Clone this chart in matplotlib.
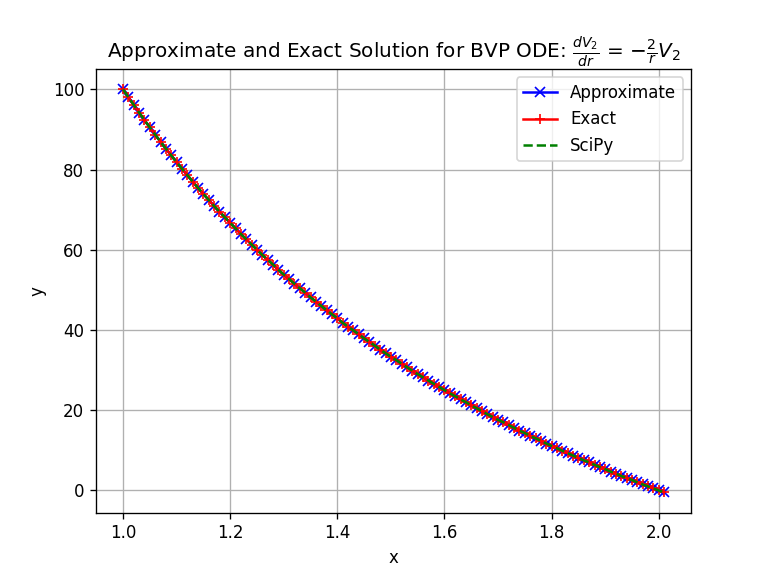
import matplotlib
matplotlib.use("Agg")
import matplotlib.pyplot as plt

r_vals = [1.00, 1.01, 1.02, 1.03, 1.04, 1.05, 1.06, 1.07, 1.08, 1.09,
          1.10, 1.11, 1.12, 1.13, 1.14, 1.15, 1.16, 1.17, 1.18, 1.19,
          1.20, 1.21, 1.22, 1.23, 1.24, 1.25, 1.26, 1.27, 1.28, 1.29,
          1.30, 1.31, 1.32, 1.33, 1.34, 1.35, 1.36, 1.37, 1.38, 1.39,
          1.40, 1.41, 1.42, 1.43, 1.44, 1.45, 1.46, 1.47, 1.48, 1.49,
          1.50, 1.51, 1.52, 1.53, 1.54, 1.55, 1.56, 1.57, 1.58, 1.59,
          1.60, 1.61, 1.62, 1.63, 1.64, 1.65, 1.66, 1.67, 1.68, 1.69,
          1.70, 1.71, 1.72, 1.73, 1.74, 1.75, 1.76, 1.77, 1.78, 1.79,
          1.80, 1.81, 1.82, 1.83, 1.84, 1.85, 1.86, 1.87, 1.88, 1.89,
          1.90, 1.91, 1.92, 1.93, 1.94, 1.95, 1.96, 1.97, 1.98, 1.99,
          2.00, 2.01]

v_exact = [100.0, 98.0, 96.1, 94.2, 92.3, 90.5, 88.7, 86.9, 85.2, 83.5,
           81.8, 80.2, 78.6, 77.0, 75.4, 73.9, 72.4, 70.9, 69.5, 68.1,
           66.7, 65.3, 63.9, 62.6, 61.3, 60.0, 58.7, 57.5, 56.3, 55.0,
           53.8, 52.7, 51.5, 50.4, 49.3, 48.1, 47.1, 46.0, 44.9, 43.9,
           42.9, 41.8, 40.8, 39.9, 38.9, 37.9, 37.0, 36.1, 35.1, 34.2,
           33.3, 32.5, 31.6, 30.7, 29.9, 29.0, 28.2, 27.4, 26.6, 25.8,
           25.0, 24.2, 23.5, 22.7, 22.0, 21.2, 20.5, 19.8, 19.0, 18.3,
           17.6, 17.0, 16.3, 15.6, 14.9, 14.3, 13.6, 13.0, 12.4, 11.7,
           11.1, 10.5, 9.9, 9.3, 8.7, 8.1, 7.5, 7.0, 6.4, 5.8,
           5.3, 4.7, 4.2, 3.6, 3.1, 2.6, 2.0, 1.5, 1.0, 0.5,
           0.0, -0.5]

# the three curves sit on top of each other in the picture
v_approx = list(v_exact)
v_scipy = list(v_exact)

fig, ax = plt.subplots(figsize=(6.4, 4.8), dpi=120)
ax.plot(r_vals, v_approx, 'b-x', label='Approximate')
ax.plot(r_vals, v_exact, 'r-+', label='Exact')
ax.plot(r_vals, v_scipy, 'g--', label='SciPy')
ax.set_title(r'Approximate and Exact Solution for BVP ODE: $\frac{dV_2}{dr}$ = $-\frac{2}{r}V_2$')
ax.set_xlabel('x')
ax.set_ylabel('y')
ax.grid(True)
ax.legend(loc='upper right')
fig.savefig('out.png')
